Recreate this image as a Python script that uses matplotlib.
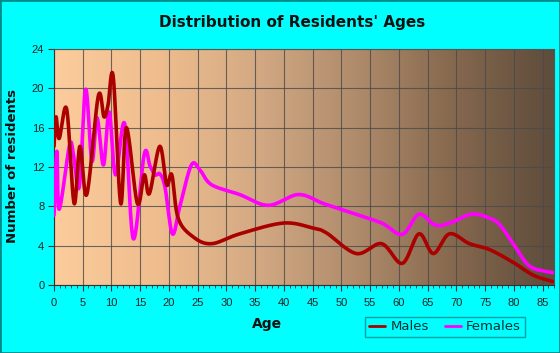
import numpy as np
import matplotlib
matplotlib.use("Agg")
import matplotlib.pyplot as plt
from matplotlib.colors import LinearSegmentedColormap

# ---- data ----
male_ages = [0, 0.35, 0.9, 2.2, 3.5, 4.5, 5.7, 7.7, 8.7, 9.4, 10.3, 11.6, 12.6, 14.5,
             15.7, 16.6, 18.4, 19.6, 20.5, 21.6, 24.2, 27.4, 32.3, 39.9, 45, 47.4,
             52.6, 57, 60.6, 63.5, 66, 68.8, 72.3, 75.8, 79.9, 83.4, 86.8]
male_vals = [14.1, 17.1, 14.9, 17.9, 8.3, 14.1, 9.2, 19.2, 17.1, 18.3, 21.2, 8.3, 16.0, 8.3,
             11.2, 9.3, 14.1, 10.2, 11.2, 6.8, 4.9, 4.2, 5.2, 6.3, 5.8, 5.3,
             3.2, 4.2, 2.2, 5.2, 3.2, 5.2, 4.2, 3.6, 2.3, 1.0, 0.35]

female_ages = [0, 0.5, 0.9, 2.7, 3.4, 4.4, 5.5, 6.6, 7.5, 8.6, 9.6, 10.7, 12.3, 13.8,
               15.7, 16.7, 17.6, 18.4, 19.3, 20.6, 21.9, 23.9, 25.4, 27.4, 32.3, 37.3,
               42.5, 46.8, 50.9, 57, 60.6, 63.5, 66.3, 68.9, 72.6, 75.8, 77.6, 79.9,
               82.8, 86.8]
female_vals = [7.1, 13.6, 7.7, 14.2, 13.2, 10.0, 19.9, 12.6, 17.0, 12.2, 17.6, 11.2, 16.4, 4.7,
               13.3, 12.1, 11.2, 11.3, 10.0, 5.2, 8.0, 12.2, 11.7, 10.2, 9.2, 8.1,
               9.2, 8.3, 7.5, 6.3, 5.15, 7.2, 6.1, 6.3, 7.2, 6.8, 6.1, 4.2,
               1.9, 1.25]

x_ticks = list(range(0, 90, 5))
y_ticks = list(range(0, 25, 4))
series_names = ["Males", "Females"]
title = "Distribution of Residents' Ages"


def catmull_rom(xs, ys, n=20):
    xs = np.asarray(xs, float)
    ys = np.asarray(ys, float)
    px = np.concatenate([[2 * xs[0] - xs[1]], xs, [2 * xs[-1] - xs[-2]]])
    py = np.concatenate([[2 * ys[0] - ys[1]], ys, [2 * ys[-1] - ys[-2]]])
    outx, outy = [], []
    for i in range(1, len(px) - 2):
        t = np.linspace(0, 1, n, endpoint=False)
        for arr, out in ((px, outx), (py, outy)):
            p0, p1, p2, p3 = arr[i - 1], arr[i], arr[i + 1], arr[i + 2]
            out.extend(0.5 * ((2 * p1) + (-p0 + p2) * t
                              + (2 * p0 - 5 * p1 + 4 * p2 - p3) * t ** 2
                              + (-p0 + 3 * p1 - 3 * p2 + p3) * t ** 3))
    outx.append(xs[-1])
    outy.append(ys[-1])
    return np.array(outx), np.array(outy)


fig = plt.figure(figsize=(5.6, 3.53), dpi=100, facecolor="#00FFFF")
fig.patches.append(plt.Rectangle((0, 0), 1, 1, transform=fig.transFigure,
                                 fill=False, edgecolor="#008B8B", linewidth=2))

ax = fig.add_axes([54 / 560, 68 / 353, 500 / 560, 236 / 353])
xmax = 87.0
ax.set_xlim(0, xmax)
ax.set_ylim(0, 24)

cmap = LinearSegmentedColormap.from_list(
    "bg", ["#FCCC9C", "#F0BE8E", "#D4AA84", "#B08C6C", "#86684E", "#5E4C3C"])
grad = np.linspace(0, 1, 256).reshape(1, -1)
ax.imshow(grad, cmap=cmap, aspect="auto", extent=[0, xmax, 0, 24], zorder=0)

for s in ax.spines.values():
    s.set_color("#333333")
    s.set_linewidth(0.8)
ax.spines["top"].set_color("#555555")
ax.spines["right"].set_color("#555555")

ax.set_xticks(x_ticks)
ax.set_xticks(range(0, 88), minor=True)
ax.set_yticks(y_ticks)
ax.grid(True, which="major", color="#4a4a4a", linewidth=0.8, alpha=0.8, zorder=1)
ax.tick_params(axis="both", which="major", length=4, width=0.8, color="#333333",
               labelsize=8, labelcolor="#222222", pad=5)
ax.tick_params(axis="y", which="major", pad=3)
ax.tick_params(axis="x", which="minor", length=2.5, width=0.6, color="#333333")
for lbl in ax.get_xticklabels() + ax.get_yticklabels():
    lbl.set_fontfamily("Liberation Sans")

mx, my = catmull_rom(male_ages, male_vals)
fx, fy = catmull_rom(female_ages, female_vals)
ax.plot(fx, fy, color="#FF00FF", linewidth=2.6, zorder=3, label=series_names[1],
        solid_capstyle="round")
ax.plot(mx, my, color="#AA0000", linewidth=2.6, zorder=4, label=series_names[0],
        solid_capstyle="round")

fig.text(292 / 560, 1 - 23 / 353, title, ha="center", va="center",
         fontsize=11, fontweight="bold", color="#111111")
fig.text(267 / 560, 1 - 324 / 353, "Age", ha="center", va="center",
         fontsize=10, fontweight="bold", color="#111111")
fig.text(13 / 560, 1 - 166 / 353, "Number of residents", ha="center", va="center",
         rotation=90, fontsize=9.5, fontweight="bold", color="#111111")

h, l = ax.get_legend_handles_labels()
leg = fig.legend([h[1], h[0]], [l[1], l[0]], loc="center",
                 bbox_to_anchor=(445 / 560, 1 - 327 / 353), ncol=2,
                 frameon=True, fancybox=False, fontsize=9.5, handlelength=1.2,
                 handletextpad=0.4, columnspacing=1.2, borderpad=0.3)
leg.get_frame().set_facecolor("#00FFFF")
leg.get_frame().set_edgecolor("#008B8B")
leg.get_frame().set_linewidth(1)
for t in leg.get_texts():
    t.set_color("#003333")
for line in leg.get_lines():
    line.set_linewidth(2)

fig.savefig("out.png", dpi=100, facecolor=fig.get_facecolor())
